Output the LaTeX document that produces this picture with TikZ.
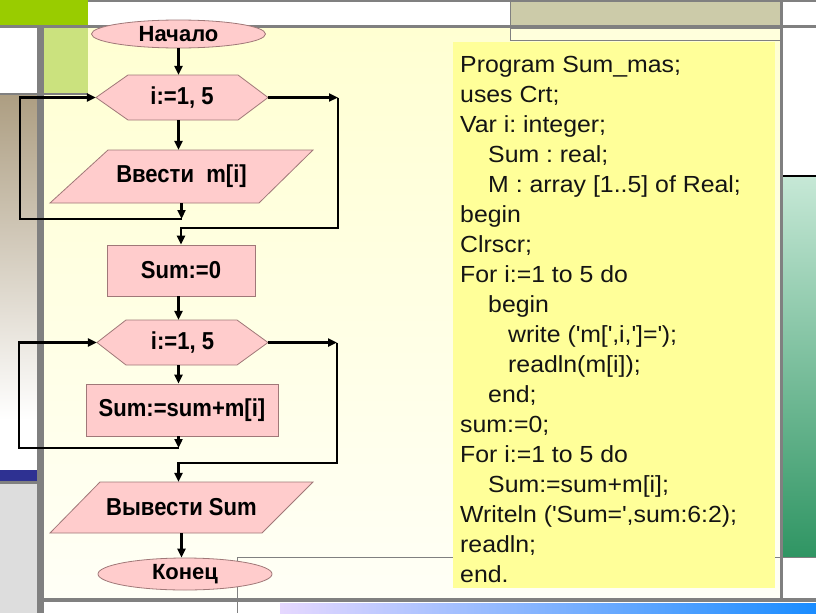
\documentclass[tikz,border=0pt]{standalone}
\usepackage{fontspec}
\usetikzlibrary{arrows.meta,shapes.geometric,calc}
\newfontfamily\ovalfont[FakeStretch=1.0]{Liberation Sans}
\newfontfamily\flowfont[FakeStretch=0.9]{Liberation Sans}
\newfontfamily\codefont[FakeStretch=1.066]{Liberation Sans}
\definecolor{pinkfill}{HTML}{FFCCCC}
\definecolor{pinkline}{HTML}{A07878}
\definecolor{bgtop}{HTML}{FFFFD2}
\definecolor{bgbot}{HTML}{FFFFF6}
\definecolor{codefill}{HTML}{FFFF99}
\definecolor{topgreen}{HTML}{99CC00}
\definecolor{lightgreen}{HTML}{CBE27E}
\definecolor{khaki}{HTML}{CCCBA9}
\definecolor{barGray}{HTML}{808080}
\definecolor{tan}{HTML}{AD9E82}
\definecolor{navy}{HTML}{2E3192}
\definecolor{lgray}{HTML}{DDDDDD}
\definecolor{mint}{HTML}{C6E8D6}
\definecolor{dgreen}{HTML}{2F9563}
\definecolor{lav}{HTML}{E6D8FF}
\definecolor{skyblue}{HTML}{1A8CFF}
\definecolor{stripfill}{HTML}{FFFFDC}
\begin{document}
\begin{tikzpicture}[x=1pt,y=-1pt,
  shp/.style={fill=pinkfill, draw=pinkline, line width=0.8pt},
  lbl/.style={font=\flowfont\bfseries\fontsize{24.5}{26}\selectfont, text=black, inner sep=0pt},
  ovallbl/.style={font=\ovalfont\bfseries\fontsize{22}{24}\selectfont, text=black, inner sep=0pt},
  ln/.style={line width=2.5pt, black},
  arr/.style={ln, -{Triangle[length=9pt,width=8pt]}},
  codetext/.style={font=\codefont\fontsize{23.3}{30}\selectfont\frenchspacing, text={black!92}, align=left, inner sep=0pt}]
\useasboundingbox (0,0) rectangle (816,613);
% ---- background decoration ----
\fill[white] (0,0) rectangle (816,613);
\shade[top color=bgtop, bottom color=bgbot] (44,28) rectangle (780,598);
\fill[topgreen] (0,0) rectangle (88,25);
\fill[khaki] (510,0) rectangle (780,25);
\fill[barGray] (88,0) rectangle (816,1.5);
\fill[barGray] (0,25) rectangle (816,28);
\fill[lightgreen] (44,28) rectangle (88,93);
\fill[barGray] (0,93) rectangle (88,95);
\shade[top color=tan, bottom color=white] (0,95) rectangle (37,420);
\fill[navy] (0,470) rectangle (37,481);
\fill[barGray] (0,481) rectangle (37,484);
\fill[lgray] (0,484) rectangle (37,613);
\fill[barGray] (37,28) rectangle (44,613);
\fill[barGray] (780,0) rectangle (783,598);
\filldraw[fill=stripfill, draw=barGray, line width=1pt] (510,28) rectangle (780,40);
\draw[barGray, line width=1pt] (510,0) -- (510,40);
\draw[black, line width=1.5pt] (783,176) -- (816,176);
\shade[top color=mint, bottom color=dgreen] (783,177) rectangle (816,557);
\draw[barGray, line width=0.8pt] (237,557) -- (816,557);
\draw[barGray, line width=0.8pt] (237,557) -- (237,613);
\fill[barGray] (44,598) rectangle (816,602);
\shade[left color=lav, right color=skyblue] (280,603) rectangle (816,613);
% ---- code box ----
\fill[codefill] (453,42) rectangle (775,588);
\node[codetext, anchor=north west] (code) at (460,51) {\strut Program Sum\_mas;\\
uses Crt;\\
Var i: integer;\\
\hspace*{28pt}Sum : real;\\
\hspace*{28pt}M : array [1..5] of Real;\\
begin\\
Clrscr;\\
For i:=1 to 5 do\\
\hspace*{28pt}begin\\
\hspace*{48pt}write (\textquotesingle m[\textquotesingle,i,\textquotesingle]=\textquotesingle);\\
\hspace*{48pt}readln(m[i]);\\
\hspace*{28pt}end;\\
sum:=0;\\
For i:=1 to 5 do\\
\hspace*{28pt}Sum:=sum+m[i];\\
Writeln (\textquotesingle Sum=\textquotesingle,sum:6:2);\\
readln;\\
end.};
% ---- flowchart shapes ----
\node[shp, ellipse, ovallbl, minimum width=174pt, minimum height=28pt] (start) at (178.5,34) {Начало};
\path[shp] (96,97.5) -- (128,75) -- (238,75) -- (268,97.5) -- (238,120) -- (128,120) -- cycle;
\node[lbl, minimum width=172pt, minimum height=45pt] (loop1) at (182,97.5) {i:=1, 5};
\path[shp] (108,150) -- (313,150) -- (259,203) -- (50,203) -- cycle;
\node[lbl, minimum height=53pt] (input) at (181.5,176.5) {Ввести\ \ m[i]};
\node[shp, lbl, minimum width=148pt, minimum height=51pt] (sum0) at (181,270.5) {Sum:=0};
\path[shp] (97,342.5) -- (126,320) -- (237,320) -- (268,342.5) -- (237,365) -- (126,365) -- cycle;
\node[lbl, minimum width=171pt, minimum height=45pt] (loop2) at (182.5,342.5) {i:=1, 5};
\node[shp, lbl, minimum width=192pt, minimum height=52pt] (body) at (182,410) {Sum:=sum+m[i]};
\path[shp] (100,482) -- (313,482) -- (262,533) -- (50,533) -- cycle;
\node[lbl, minimum height=51pt] (output) at (181.5,507.5) {Вывести Sum};
\node[shp, ellipse, ovallbl, minimum width=174pt, minimum height=32pt] (stop) at (185,574) {Конец};
% ---- connectors ----
\coordinate (col) at (178.5,0);
\coordinate (l1a) at (20,219);
\coordinate (l1b) at (20,97.5);
\coordinate (r1a) at (338,97.5);
\coordinate (r1b) at (338,228);
\coordinate (l2a) at (19,448);
\coordinate (l2b) at (19,342.5);
\coordinate (r2a) at (337,342.5);
\coordinate (r2b) at (337,463);
\draw[arr] (col |- start.south) -- (col |- loop1.north);
\draw[arr] (col |- loop1.south) -- (col |- input.north);
\draw[arr] (input.south) -- (input.south |- l1a);
\draw[arr] (input.south |- l1a) -- (l1a) -- (l1b) -- (loop1.west);
\draw[arr] (loop1.east) -- (r1a);
\draw[arr] (r1a) -- (r1b) -- (r1b -| sum0.north) -- (sum0.north);
\draw[arr] (col |- sum0.south) -- (col |- loop2.north);
\draw[arr] (col |- loop2.south) -- (col |- body.north);
\draw[arr] (col |- body.south) -- (col |- l2a);
\draw[arr] (col |- l2a) -- (l2a) -- (l2b) -- (loop2.west);
\draw[arr] (loop2.east) -- (r2a);
\draw[arr] (r2a) -- (r2b) -- (col |- r2b) -- (col |- output.north);
\draw[arr] (output.south) -- (output.south |- stop.north);
\end{tikzpicture}
\end{document}
